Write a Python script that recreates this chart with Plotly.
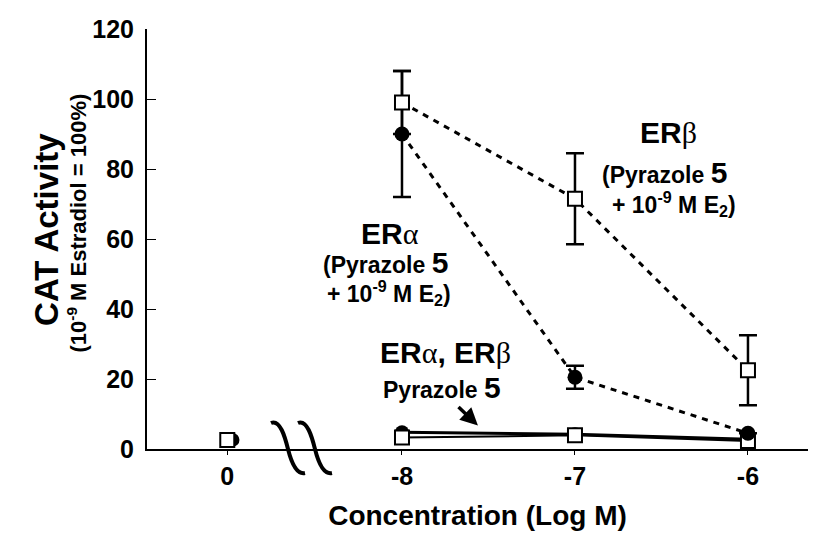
import plotly.graph_objects as go

# Concentration labels and their axis positions (the vehicle point sits left of the axis break)
conc_labels = ["0", "-8", "-7", "-6"]
conc_pos = [-9.01, -8, -7, -6]

# Pyrazole 5 + 1e-9 M E2
era_e2 = [90, 20.5, 4.5]
era_e2_err = [18, 3.3, 0]
erb_e2 = [99, 71.5, 22.5]
erb_e2_err = [9, 13, 10]

# Pyrazole 5 alone
era_alone = [4.8, 4.2, 2.8]
erb_alone = [3.3, 3.9, 2.3]

# Vehicle (concentration 0)
era_ctrl = 2.6
erb_ctrl = 2.6

dose_pos = conc_pos[1:]
FONT = "Liberation Sans, Arial, sans-serif"
SERIF = "Liberation Serif, Times New Roman, serif"

X_RANGE = [-9.474, -5.653]
Y_RANGE = [0, 120]
W, H = 816, 539
M = dict(l=147, r=8, t=29, b=90)
plot_w = W - M["l"] - M["r"]
plot_h = H - M["t"] - M["b"]

fig = go.Figure()

# solid lines: compound alone
fig.add_trace(go.Scatter(x=dose_pos, y=era_alone, mode="lines+markers",
                         line=dict(color="black", width=3),
                         marker=dict(symbol="circle", size=14, color="black")))
fig.add_trace(go.Scatter(x=dose_pos, y=erb_alone, mode="lines+markers",
                         line=dict(color="black", width=2),
                         marker=dict(symbol="square", size=14, color="white",
                                     line=dict(color="black", width=2))))

# dashed lines: compound + E2
dash_style = "6px,6px"
fig.add_trace(go.Scatter(x=dose_pos, y=era_e2, mode="lines+markers",
                         line=dict(color="black", width=3, dash=dash_style),
                         error_y=dict(type="data", array=era_e2_err, color="black",
                                      thickness=2.5, width=9),
                         marker=dict(symbol="circle", size=15, color="black")))
fig.add_trace(go.Scatter(x=dose_pos, y=erb_e2, mode="lines+markers",
                         line=dict(color="black", width=3, dash=dash_style),
                         error_y=dict(type="data", array=erb_e2_err, color="black",
                                      thickness=2.5, width=9),
                         marker=dict(symbol="square", size=14, color="white",
                                     line=dict(color="black", width=2))))

# vehicle points
fig.add_trace(go.Scatter(x=[conc_pos[0] + 0.03], y=[era_ctrl], mode="markers",
                         marker=dict(symbol="circle", size=14, color="black")))
fig.add_trace(go.Scatter(x=[conc_pos[0]], y=[erb_ctrl], mode="markers",
                         marker=dict(symbol="square", size=14, color="white",
                                     line=dict(color="black", width=2))))


def paper_x(xv):
    return (xv - X_RANGE[0]) / (X_RANGE[1] - X_RANGE[0])


# axis break: two S-shaped strokes crossing the x axis
break_centers = [-8.659, -8.503]
curve = [(-17, -26), (-8, -30), (-3, -12), (0, 0), (3, 12), (8, 26), (17, 24)]
break_shapes = []
for c in break_centers:
    cx = paper_x(c)
    pts = [(cx + dx / plot_w, -dy / plot_h) for dx, dy in curve]
    path = f"M {pts[0][0]:.5f},{pts[0][1]:.5f} C " + \
        " ".join(f"{a:.5f},{b:.5f}" for a, b in pts[1:4]) + " C " + \
        " ".join(f"{a:.5f},{b:.5f}" for a, b in pts[4:7])
    break_shapes.append(dict(type="path", path=path, xref="paper", yref="paper",
                             line=dict(color="black", width=4)))


def greek(ch):
    return f"<span style='font-family:{SERIF};font-weight:normal'>{ch}</span>"


big5 = "<span style='font-size:30px'>5</span>"
e2_line = "+ 10<sup>-9</sup> M E<sub>2</sub>)"

labels = [
    (-8.069, 61.6, "ER" + greek("α"), 30),
    (-8.098, 53.3, "(Pyrazole " + big5, 23),
    (-8.075, 44.5, e2_line, 23),
    (-6.457, 90.5, "ER" + greek("β"), 30),
    (-6.480, 79.1, "(Pyrazole " + big5, 23),
    (-6.428, 70.0, e2_line, 23),
    (-7.751, 27.6, "ER" + greek("α") + ", ER" + greek("β"), 30),
    (-7.769, 17.6, "Pyrazole " + big5, 23),
]
annots = [dict(x=x, y=y, xref="x", yref="y", text=t, showarrow=False,
               font=dict(family=FONT, size=s, color="black", weight="bold"))
          for x, y, t, s in labels]

# arrow pointing at the compound-alone curves
annots.append(dict(x=-7.561, y=6.7, ax=-7.682, ay=12.4, axref="x", ayref="y",
                   xref="x", yref="y", text="", showarrow=True, arrowhead=2,
                   arrowsize=1.0, arrowwidth=3.5, arrowcolor="black"))

# y axis titles
annots.append(dict(xref="paper", yref="paper", x=-0.183, y=0.523, textangle=-90,
                   text="CAT Activity", showarrow=False,
                   font=dict(family=FONT, size=33, color="black", weight="bold")))
annots.append(dict(xref="paper", yref="paper", x=-0.130, y=0.537, textangle=-90,
                   text="(10<sup>-9</sup> M Estradiol = 100%)", showarrow=False,
                   font=dict(family=FONT, size=22, color="black", weight="bold")))

fig.update_layout(
    width=W, height=H,
    margin=M,
    paper_bgcolor="white", plot_bgcolor="white",
    showlegend=False,
    shapes=break_shapes,
    annotations=annots,
    font=dict(family=FONT, color="black"),
    xaxis=dict(range=X_RANGE, tickvals=conc_pos, ticktext=conc_labels,
               showgrid=False, zeroline=False, showline=True, linecolor="black",
               linewidth=2, ticks="outside", ticklen=4, tickwidth=1, tickcolor="black",
               tickfont=dict(family=FONT, size=25, color="black", weight="bold"),
               title=dict(text="Concentration (Log M)", standoff=16,
                          font=dict(family=FONT, size=28, color="black", weight="bold"))),
    yaxis=dict(range=Y_RANGE, tickvals=[0, 20, 40, 60, 80, 100, 120],
               showgrid=False, zeroline=False, showline=True, linecolor="black",
               linewidth=2, ticks="inside", ticklen=9, tickwidth=1, tickcolor="black",
               ticklabelstandoff=6,
               tickfont=dict(family=FONT, size=25, color="black", weight="bold")),
)

fig.write_html("out.html")
